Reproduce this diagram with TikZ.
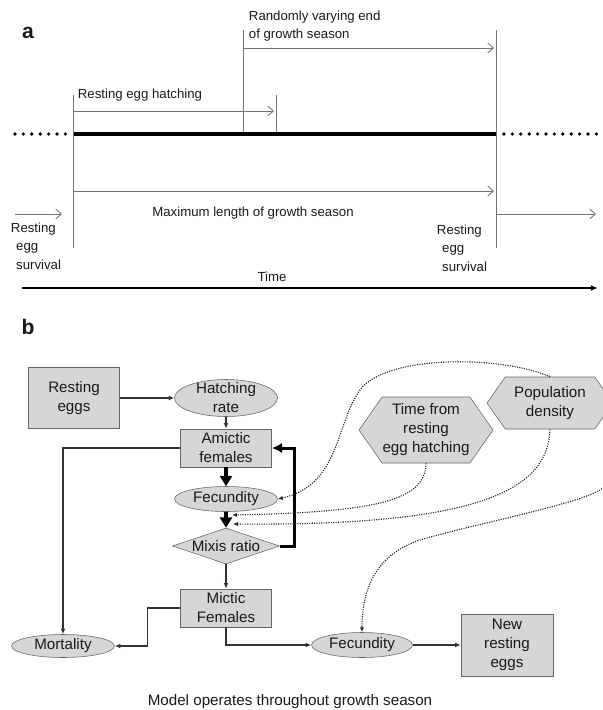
\documentclass[tikz,border=0pt]{standalone}
\usepackage{fontspec}
\setmainfont{Liberation Sans}
\usetikzlibrary{arrows.meta,shapes.geometric,shapes.symbols}

\begin{document}
\begin{tikzpicture}[x=0.25mm, y=-0.25mm,
    every node/.style={font=\fontsize{9.4}{13}\selectfont, text=black!90},
    big/.style={font=\fontsize{10.8}{13.5}\selectfont},
    panel/.style={font=\fontsize{15}{15}\bfseries\selectfont},
    tick/.style={draw=black!55, line width=0.6pt},
    span/.style={draw=black!55, line width=0.6pt, -{Straight Barb[length=4pt,width=7pt]}},
    dotrow/.style={line width=2.6pt, line cap=round, dash pattern=on 0pt off 2.1mm},
    box/.style={rectangle, big, draw=black!60, fill=black!16, align=center, inner sep=0.5pt},
    oval/.style={ellipse, big, draw=black!60, fill=black!16, align=center, inner sep=-1mm},
    rhomb/.style={diamond, big, aspect=2.8, draw=black!60, fill=black!16, inner sep=0pt},
    hexa/.style={signal, big, signal to=west and east, signal pointer angle=110,
        draw=black!60, fill=black!16, align=center, inner xsep=0pt, inner ysep=1pt},
    link/.style={draw=black!80, line width=0.9pt, -{Latex[length=4pt,width=3.5pt]}},
    fat arrow/.style={line width=1mm, -{Triangle[length=2.6mm,width=3mm]}},
    loop link/.style={line width=0.75mm, -{Latex[length=2.6mm,width=2.6mm]}},
    influence/.style={draw=black!85, line width=0.8pt, dash pattern=on 0.8pt off 0.9pt,
        -{Latex[length=3.5pt,width=3pt]}}]
    \useasboundingbox (0,0) rectangle (603,710);

    % a: time line of one growth season
    \node[panel] (labela) at (28,33) {a};
    \draw[dotrow] (15,134) -- (66,134);
    \draw[line width=1mm] (73,134) -- (496,134);
    \draw[dotrow] (504,134) -- (597,134);

    \draw[tick] (73,95) -- (73,248);
    \draw[tick] (243,30) -- (243,132);
    \draw[tick] (276,95) -- (276,132);
    \draw[tick] (496,30) -- (496,248);

    \draw[span] (243,48) -- (494,48);
    \draw[span] (73,111) -- (274,111);
    \draw[span] (73,191) -- (494,191);
    \draw[span] (15,214) -- (62,214);
    \draw[span] (496,214) -- (596,214);

    \node[anchor=west, align=left] (rvend) at (244,26) {Randomly varying end\\ of growth season};
    \node (hatchlbl) at (140,95) {Resting egg hatching};
    \node (maxlbl) at (253,213) {Maximum length of growth season};
    \node[anchor=north west, align=left] (survleft) at (6,218) {Resting\\\hspace*{1.3mm}egg\\\hspace*{1.3mm}survival};
    \node[anchor=north west, align=left] (survright) at (432,220) {Resting\\\hspace*{1.3mm}egg\\\hspace*{1.3mm}survival};
    \node (timelbl) at (272,277) {Time};
    \draw[line width=1.1pt, -{Latex[length=5pt,width=4pt]}] (22,288) -- (598,288);

    % b: the model
    \node[panel] (labelb) at (28,327) {b};
    \node[box, minimum width=22.75mm, minimum height=15.25mm] (resteggs) at (74,398) {Resting\\eggs};
    \node[oval, minimum width=25.75mm, minimum height=9.25mm] (hatch) at (226,398) {Hatching\\rate};
    \node[box, minimum width=22.75mm, minimum height=9.5mm] (amictic) at (226,448) {Amictic\\females};
    \node[oval, minimum width=25.75mm, minimum height=6.25mm] (fecamictic) at (226,499) {Fecundity};
    \node[rhomb, minimum width=26.75mm, minimum height=9mm] (mixis) at (226,546) {Mixis ratio};
    \node[box, minimum width=22.75mm, minimum height=9.5mm] (mictic) at (226,608) {Mictic\\Females};
    \node[oval, minimum width=25.75mm, minimum height=5.75mm] (mortality) at (63,646) {Mortality};
    \node[oval, minimum width=25.25mm, minimum height=6.25mm] (fecmictic) at (362,645) {Fecundity};
    \node[box, minimum width=23mm, minimum height=15.5mm] (neweggs) at (507,645) {New\\resting\\eggs};
    \node[hexa, minimum width=33.5mm, minimum height=16.5mm] (timehatch) at (426,430) {Time from\\resting\\egg hatching};
    \node[hexa, minimum width=31.5mm, minimum height=13mm] (popdens) at (550,403) {Population\\density};
    \node[big] (caption) at (290,702) {Model operates throughout growth season};

    \draw[link] (resteggs.east) -- (hatch.west);
    \draw[link] (hatch) -- (amictic);
    \draw[fat arrow] (amictic) -- (fecamictic);
    \draw[fat arrow] (fecamictic) -- (mixis);
    \draw[loop link] (mixis.east) -- ++(15,0) |- (amictic.east);
    \draw[link] (mixis) -- (mictic);
    \draw[link] (amictic.west) -| (mortality.north);
    \draw[link] (mictic.west) -- ++(-33,0) |- (mortality.east);
    \draw[link] (mictic.south) |- (fecmictic.west);
    \draw[link] (fecmictic) -- (neweggs);

    \coordinate (mixtipA) at (232,515);
    \coordinate (mixtipB) at (233,524);
    \draw[influence] (popdens.north) .. controls (500,355) and (385,355) .. (360,390)
        .. controls (335,425) and (340,485) .. (fecamictic.east);
    \draw[influence] (timehatch.south) .. controls (425,500) and (380,512) .. (mixtipA);
    \draw[influence] (popdens.south) .. controls (548,490) and (480,526) .. (mixtipB);
    \draw[influence] (popdens.east) .. controls (635,440) and (625,475) .. (600,490)
        .. controls (575,505) and (470,525) .. (420,540)
        .. controls (375,555) and (362,590) .. (fecmictic.north);
\end{tikzpicture}
\end{document}
